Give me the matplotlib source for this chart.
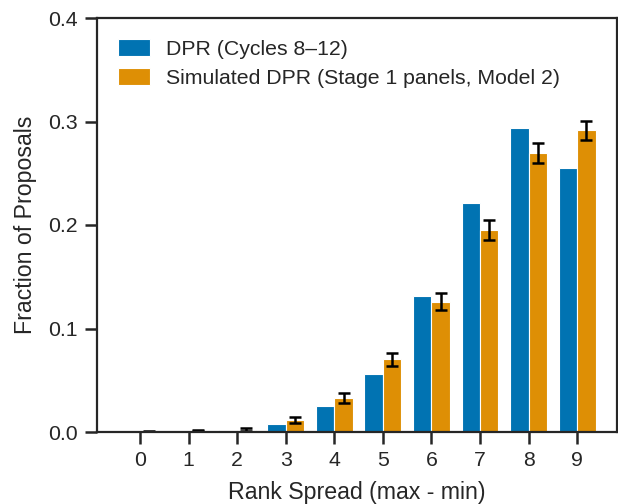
import matplotlib
matplotlib.use("Agg")
import matplotlib.pyplot as plt
import numpy as np

plt.rcParams['font.family'] = ['Liberation Sans', 'DejaVu Sans']

rank_spread = [0, 1, 2, 3, 4, 5, 6, 7, 8, 9]
dpr_observed = [0.0002, 0.0003, 0.0019, 0.0080, 0.0254, 0.0557, 0.1314, 0.2210, 0.2937, 0.2551]
dpr_simulated = [0.0003, 0.0012, 0.0024, 0.0117, 0.0331, 0.0702, 0.1260, 0.1948, 0.2694, 0.2914]
sim_err = [0.0003, 0.0006, 0.0014, 0.0030, 0.0048, 0.0064, 0.0080, 0.0097, 0.0098, 0.0094]

label_obs = "DPR (Cycles 8\u201312)"
label_sim = "Simulated DPR (Stage 1 panels, Model 2)"
blue = "#0173b2"
orange = "#de8f05"
dark = "#262626"

fig = plt.figure(figsize=(6.18, 5.04), dpi=100)
ax = fig.add_axes([97/618, 72/504, 520/618, 414/504])

x = np.arange(len(rank_spread))
w = 0.38
ax.bar(x - w/2, dpr_observed, width=w, color=blue, edgecolor="white", linewidth=0.8, label=label_obs)
ax.bar(x + w/2, dpr_simulated, width=w, color=orange, edgecolor="white", linewidth=0.8, label=label_sim)
ax.errorbar(x + w/2, dpr_simulated, yerr=sim_err, fmt="none", ecolor="black",
            elinewidth=1.8, capsize=4, capthick=1.8)

ax.set_xlim(-0.885, 9.82)
ax.set_ylim(0, 0.4)
ax.set_xticks(x)
ax.set_xticklabels([str(v) for v in rank_spread])
ax.set_yticks([0.0, 0.1, 0.2, 0.3, 0.4])
ax.set_yticklabels(["0.0", "0.1", "0.2", "0.3", "0.4"])

for s in ax.spines.values():
    s.set_linewidth(1.6)
    s.set_color(dark)
ax.tick_params(axis="both", direction="out", length=8.5, width=1.8, color=dark,
               labelsize=15.3, labelcolor=dark, pad=5.5)

ax.set_xlabel("Rank Spread (max - min)", fontsize=16.7, color=dark, labelpad=7.3)
ax.set_ylabel("Fraction of Proposals", fontsize=16.7, color=dark, labelpad=8)

ax.legend(loc="upper left", frameon=False, fontsize=15.3, handlelength=1.5,
          handleheight=0.8, handletextpad=0.75, labelspacing=0.45,
          borderaxespad=0.6, labelcolor=dark)

fig.savefig("out.png", dpi=100)
